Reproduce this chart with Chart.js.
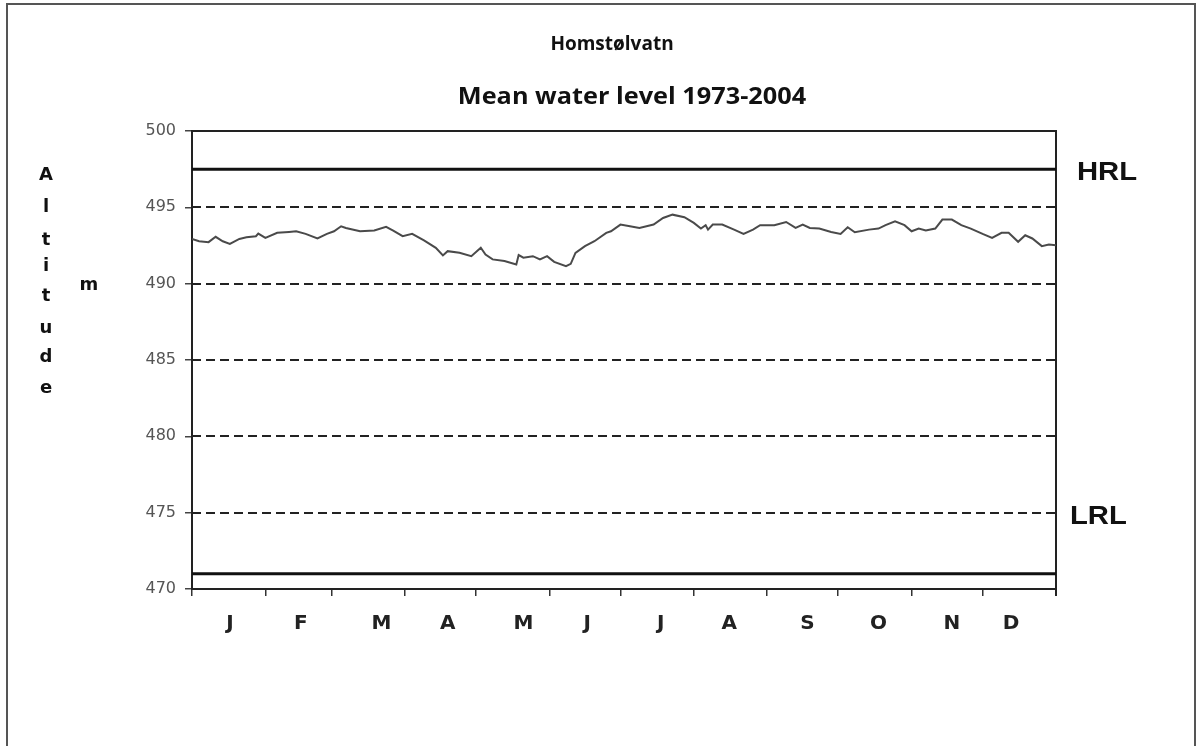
<!DOCTYPE html>
<html>
<head>
<meta charset="utf-8">
<script src="https://cdn.jsdelivr.net/npm/chart.js@4.4.1/dist/chart.umd.min.js"></script>
<style>
  html, body { margin: 0; padding: 0; background: #fff; }
  #wrap { position: relative; width: 1200px; height: 746px; overflow: hidden; }
  #frame { position: absolute; left: 6px; top: 3px; width: 1190px; height: 760px; border: 2px solid #555; box-sizing: border-box; }
  canvas { position: absolute; left: 0; top: 0; }
</style>
</head>
<body>
<div id="wrap">
  <div id="frame"></div>
  <canvas id="c" width="1200" height="746"></canvas>
</div>
<script>
// ---- data ----
const dayOfYear = [0,3,7,10,13,16,20,23,27,28,31,36,41,44,48,53,57,60,63,65,71,77,82,85,89,
  93,98,103,106,108,113,118,122,124,127,132,137,138,140,144,147,150,153,158,160,162,166,170,175,177,181,
  185,189,195,199,203,208,212,215,217,218,220,224,229,233,237,240,246,251,255,258,261,265,270,
  274,277,280,286,290,293,297,301,304,307,310,314,317,321,325,329,334,338,342,345,349,352,355,359,362,365];
const meanLevel = [492.93,492.78,492.72,493.07,492.78,492.61,492.93,493.04,493.11,493.28,493.00,493.33,493.39,493.43,493.26,492.96,493.26,493.43,493.76,493.65,493.43,493.48,493.72,493.48,493.11,
  493.26,492.83,492.35,491.85,492.13,492.02,491.80,492.35,491.91,491.59,491.48,491.26,491.87,491.70,491.80,491.59,491.80,491.43,491.15,491.30,492.02,492.46,492.78,493.33,493.43,493.87,
  493.76,493.65,493.87,494.30,494.52,494.35,493.98,493.61,493.83,493.54,493.87,493.87,493.54,493.26,493.54,493.83,493.83,494.04,493.65,493.87,493.65,493.61,493.39,
  493.26,493.70,493.37,493.54,493.61,493.83,494.09,493.83,493.43,493.61,493.48,493.61,494.20,494.20,493.83,493.61,493.26,493.00,493.33,493.33,492.74,493.17,492.96,492.46,492.57,492.52];
const monthBoundaries = [0,31,59,90,120,151,181,212,243,273,304,334,365];
const monthLabels = ['J','F','M','A','M','J','J','A','S','O','N','D'];
const monthLabelDays = [16,46,80,108,140,167,198,227,260,290,321,346];
const yTicks = [470,475,480,485,490,495,500];
const dashedLevels = [475,480,485,490,495];
const hrlLevel = 497.5;
const lrlLevel = 475;
const bottomLineLevel = 471;
const titleLines = ['Homstølvatn', 'Mean water level 1973-2004'];
const yTitleLetters = ['A','l','t','i','t','u','d','e'];
const yUnit = 'm';

// ---- build ----
const linePoints = dayOfYear.map((d, i) => ({x: d, y: meanLevel[i]}));
const xTickList = [];
monthBoundaries.forEach(v => xTickList.push({value: v, kind: 'b'}));
monthLabelDays.forEach((v, i) => xTickList.push({value: v, kind: 'l', label: monthLabels[i]}));
xTickList.sort((a, b) => a.value - b.value);

function wideText(ctx, text, x, y, sx) {
  ctx.save();
  ctx.translate(x, y);
  ctx.scale(sx, 1);
  ctx.fillText(text, 0, 0);
  ctx.restore();
}

const decor = {
  id: 'decor',
  beforeDatasetsDraw(chart) {
    const {ctx, chartArea: a, scales: {y}} = chart;
    ctx.save();
    ctx.strokeStyle = '#222';
    ctx.lineWidth = 1.8;
    ctx.setLineDash([9, 5]);
    dashedLevels.forEach(v => {
      const py = Math.round(y.getPixelForValue(v));
      ctx.beginPath(); ctx.moveTo(a.left, py); ctx.lineTo(a.right, py); ctx.stroke();
    });
    ctx.setLineDash([]);
    ctx.lineWidth = 2;
    ctx.strokeStyle = '#222';
    ctx.beginPath();
    ctx.moveTo(a.left, a.top); ctx.lineTo(a.right, a.top); ctx.lineTo(a.right, a.bottom + 7);
    ctx.stroke();
    ctx.restore();
  },
  afterDraw(chart) {
    const {ctx, chartArea: a, scales: {y}} = chart;
    ctx.save();
    ctx.fillStyle = '#111';
    ctx.textAlign = 'center';
    ctx.textBaseline = 'middle';
    ctx.font = 'bold 19px "Open Sans"';
    wideText(ctx, titleLines[0], 612, 45, 1.0);
    ctx.font = 'bold 23px "Open Sans"';
    wideText(ctx, titleLines[1], 632, 97, 1.1);
    ctx.font = 'bold 18px "DejaVu Sans"';
    const ys = [175, 207, 240, 266, 296, 328, 357, 388];
    yTitleLetters.forEach((ch, i) => ctx.fillText(ch, 46, ys[i]));
    ctx.fillText(yUnit, 89, 285);
    ctx.font = 'bold 25px "Liberation Sans"';
    ctx.textAlign = 'left';
    wideText(ctx, 'HRL', a.right + 21, y.getPixelForValue(hrlLevel) + 4, 1.17);
    wideText(ctx, 'LRL', a.right + 14, y.getPixelForValue(lrlLevel) + 4, 1.17);
    ctx.restore();
  }
};

new Chart(document.getElementById('c'), {
  type: 'line',
  data: {
    datasets: [
      { data: linePoints, borderColor: '#4a4a4a', borderWidth: 2, pointRadius: 0, tension: 0 },
      { data: [{x: 0, y: hrlLevel}, {x: 365, y: hrlLevel}], borderColor: '#111', borderWidth: 3, pointRadius: 0 },
      { data: [{x: 0, y: bottomLineLevel}, {x: 365, y: bottomLineLevel}], borderColor: '#111', borderWidth: 3, pointRadius: 0 }
    ]
  },
  options: {
    responsive: false,
    animation: false,
    events: [],
    layout: { padding: { left: 112, right: 144, top: 131, bottom: 97 } },
    plugins: { legend: { display: false }, tooltip: { enabled: false }, title: { display: false } },
    scales: {
      x: {
        type: 'linear', min: 0, max: 365,
        afterBuildTicks: s => { s.ticks = xTickList.map(t => ({value: t.value})); },
        afterFit: s => { s.height = 60; },
        border: { display: true, color: '#222', width: 2 },
        grid: {
          drawOnChartArea: false, tickLength: 7, lineWidth: 1.5,
          tickColor: c => (xTickList[c.index] && xTickList[c.index].kind === 'b') ? '#333' : 'rgba(0,0,0,0)',
          color: c => (xTickList[c.index] && xTickList[c.index].kind === 'b') ? '#333' : 'rgba(0,0,0,0)'
        },
        ticks: {
          autoSkip: false, maxRotation: 0, padding: 16,
          color: '#222', font: { family: 'DejaVu Sans', weight: 'bold', size: 20 },
          callback: (v, i) => xTickList[i] && xTickList[i].kind === 'l' ? xTickList[i].label : ''
        }
      },
      y: {
        min: 470, max: 500,
        afterBuildTicks: s => { s.ticks = yTicks.map(v => ({value: v})); },
        afterFit: s => { s.width = 80; },
        border: { display: true, color: '#222', width: 2 },
        grid: { drawOnChartArea: false, tickLength: 7, color: '#444', lineWidth: 1.5 },
        ticks: { padding: 9, color: '#555', font: { family: 'DejaVu Sans', size: 16 } }
      }
    }
  },
  plugins: [decor]
});
</script>
</body>
</html>
